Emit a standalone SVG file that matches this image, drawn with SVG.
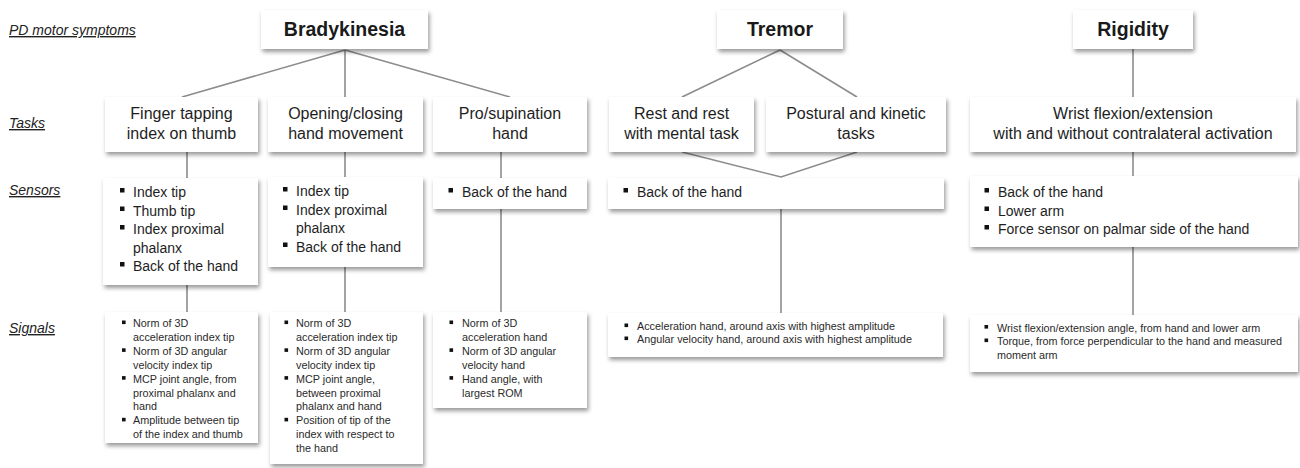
<svg xmlns="http://www.w3.org/2000/svg" width="1300" height="468" viewBox="0 0 1300 468">
<defs>
<filter id="sh" x="-10%" y="-20%" width="125%" height="150%">
<feDropShadow dx="1.5" dy="3" stdDeviation="2" flood-color="#000" flood-opacity="0.4"/>
</filter>
</defs>
<style>
.box{fill:#fff;filter:url(#sh)}
.lab{font-family:"Liberation Sans",Arial,sans-serif;font-size:14px;font-style:italic;text-decoration:underline;fill:#222}
.hd{font-family:"Liberation Sans",Arial,sans-serif;font-size:19.5px;font-weight:bold;fill:#1a1a1a;text-anchor:middle}
.tk{font-family:"Liberation Sans",Arial,sans-serif;font-size:16px;fill:#1e1e1e;text-anchor:middle}
.sn{font-family:"Liberation Sans",Arial,sans-serif;font-size:14px;fill:#1e1e1e}
.sg{font-family:"Liberation Sans",Arial,sans-serif;font-size:10.8px;fill:#2a2a2a}
.b{fill:#111}
.cn{stroke:#8c8c8c;stroke-width:1.6;fill:none}
</style>
<rect width="1300" height="468" fill="#fff"/>

<g id="labels">
<text class="lab" x="9" y="35">PD motor symptoms</text>
<text class="lab" x="9" y="128">Tasks</text>
<text class="lab" x="9" y="195">Sensors</text>
<text class="lab" x="9" y="333">Signals</text>
</g>

<g id="connectors" class="cn">
<path d="M345 50 L182 97 M345 50 L345 97 M345 50 L510 97"/>
<path d="M187 152 V178 M187 285 V312"/>
<path d="M345 152 V177 M345 267 V312"/>
<path d="M501 152 V178 M501 209 V312"/>
<path d="M780 50 L682 97 M780 50 L857 97"/>
<path d="M682 152 L781 177 L857 152 M781 209 V313"/>
<path d="M1133 49 V97 M1133 152 V176 M1133 247 V315"/>
</g>

<g id="bradykinesia"><rect class="box" x="261" y="10" width="167" height="39"/><text class="hd" x="344.5" y="36">Bradykinesia</text></g>
<g id="tremor"><rect class="box" x="717" y="10" width="126" height="39"/><text class="hd" x="780" y="36">Tremor</text></g>
<g id="rigidity"><rect class="box" x="1073" y="10" width="120" height="39"/><text class="hd" x="1133" y="36">Rigidity</text></g>

<g id="task-finger"><rect class="box" x="105" y="97" width="153" height="55"/><text class="tk" x="181.5" y="119">Finger tapping<tspan x="181.5" y="139">index on thumb</tspan></text></g>
<g id="task-opening"><rect class="box" x="268" y="97" width="155" height="55"/><text class="tk" x="345.5" y="119">Opening/closing<tspan x="345.5" y="139">hand movement</tspan></text></g>
<g id="task-prosup"><rect class="box" x="433" y="97" width="154" height="55"/><text class="tk" x="510" y="119">Pro/supination<tspan x="510" y="139">hand</tspan></text></g>
<g id="task-rest"><rect class="box" x="609" y="97" width="145" height="55"/><text class="tk" x="681.5" y="119">Rest and rest<tspan x="681.5" y="139">with mental task</tspan></text></g>
<g id="task-postural"><rect class="box" x="766" y="97" width="180" height="55"/><text class="tk" x="856" y="119">Postural and kinetic<tspan x="856" y="139">tasks</tspan></text></g>
<g id="task-wrist"><rect class="box" x="970" y="97" width="326" height="55"/><text class="tk" x="1133" y="119">Wrist flexion/extension<tspan x="1133" y="139">with and without contralateral activation</tspan></text></g>

<g id="sensors-finger"><rect class="box" x="103" y="178" width="155" height="107"/>
<rect class="b" x="120" y="188" width="4.5" height="4.5"/><rect class="b" x="120" y="206.5" width="4.5" height="4.5"/><rect class="b" x="120" y="225" width="4.5" height="4.5"/><rect class="b" x="120" y="262" width="4.5" height="4.5"/>
<text class="sn" x="133" y="197">Index tip<tspan x="133" y="215.5">Thumb tip</tspan><tspan x="133" y="234">Index proximal</tspan><tspan x="133" y="252.5">phalanx</tspan><tspan x="133" y="271">Back of the hand</tspan></text></g>
<g id="sensors-opening"><rect class="box" x="268" y="177" width="155" height="90"/>
<rect class="b" x="283" y="187" width="4.5" height="4.5"/><rect class="b" x="283" y="205.5" width="4.5" height="4.5"/><rect class="b" x="283" y="242.5" width="4.5" height="4.5"/>
<text class="sn" x="296" y="196">Index tip<tspan x="296" y="214.5">Index proximal</tspan><tspan x="296" y="233">phalanx</tspan><tspan x="296" y="251.5">Back of the hand</tspan></text></g>
<g id="sensors-prosup"><rect class="box" x="433" y="178" width="154" height="31"/>
<rect class="b" x="448.5" y="188" width="4.5" height="4.5"/>
<text class="sn" x="462" y="197">Back of the hand</text></g>
<g id="sensors-tremor"><rect class="box" x="608" y="178" width="336" height="31"/>
<rect class="b" x="623.5" y="188" width="4.5" height="4.5"/>
<text class="sn" x="637" y="197">Back of the hand</text></g>
<g id="sensors-rigidity"><rect class="box" x="970" y="176" width="328" height="71"/>
<rect class="b" x="984.5" y="188" width="4.5" height="4.5"/><rect class="b" x="984.5" y="206.5" width="4.5" height="4.5"/><rect class="b" x="984.5" y="225" width="4.5" height="4.5"/>
<text class="sn" x="998" y="197">Back of the hand<tspan x="998" y="215.5">Lower arm</tspan><tspan x="998" y="234">Force sensor on palmar side of the hand</tspan></text></g>

<g id="signals-finger"><rect class="box" x="105" y="312" width="153" height="131"/>
<rect class="b" x="122" y="320.5" width="3.6" height="3.6"/><rect class="b" x="122" y="348.3" width="3.6" height="3.6"/><rect class="b" x="122" y="376.1" width="3.6" height="3.6"/><rect class="b" x="122" y="417.8" width="3.6" height="3.6"/>
<text class="sg" x="133" y="327">Norm of 3D<tspan x="133" y="340.9">acceleration index tip</tspan><tspan x="133" y="354.8">Norm of 3D angular</tspan><tspan x="133" y="368.7">velocity index tip</tspan><tspan x="133" y="382.6">MCP joint angle, from</tspan><tspan x="133" y="396.5">proximal phalanx and</tspan><tspan x="133" y="410.4">hand</tspan><tspan x="133" y="424.3">Amplitude between tip</tspan><tspan x="133" y="438.2">of the index and thumb</tspan></text></g>
<g id="signals-opening"><rect class="box" x="270" y="312" width="153" height="152"/>
<rect class="b" x="284.5" y="320.5" width="3.6" height="3.6"/><rect class="b" x="284.5" y="348.3" width="3.6" height="3.6"/><rect class="b" x="284.5" y="376.1" width="3.6" height="3.6"/><rect class="b" x="284.5" y="417.8" width="3.6" height="3.6"/>
<text class="sg" x="296" y="327">Norm of 3D<tspan x="296" y="340.9">acceleration index tip</tspan><tspan x="296" y="354.8">Norm of 3D angular</tspan><tspan x="296" y="368.7">velocity index tip</tspan><tspan x="296" y="382.6">MCP joint angle,</tspan><tspan x="296" y="396.5">between proximal</tspan><tspan x="296" y="410.4">phalanx and hand</tspan><tspan x="296" y="424.3">Position of tip of the</tspan><tspan x="296" y="438.2">index with respect to</tspan><tspan x="296" y="452.1">the hand</tspan></text></g>
<g id="signals-prosup"><rect class="box" x="433" y="312" width="154" height="96"/>
<rect class="b" x="449.5" y="320.5" width="3.6" height="3.6"/><rect class="b" x="449.5" y="348.3" width="3.6" height="3.6"/><rect class="b" x="449.5" y="376.1" width="3.6" height="3.6"/>
<text class="sg" x="462" y="327">Norm of 3D<tspan x="462" y="340.9">acceleration hand</tspan><tspan x="462" y="354.8">Norm of 3D angular</tspan><tspan x="462" y="368.7">velocity hand</tspan><tspan x="462" y="382.6">Hand angle, with</tspan><tspan x="462" y="396.5">largest ROM</tspan></text></g>
<g id="signals-tremor"><rect class="box" x="608" y="313" width="335" height="44"/>
<rect class="b" x="624.5" y="323.5" width="3.6" height="3.6"/><rect class="b" x="624.5" y="336.5" width="3.6" height="3.6"/>
<text class="sg" x="637" y="330">Acceleration hand, around axis with highest amplitude<tspan x="637" y="343">Angular velocity hand, around axis with highest amplitude</tspan></text></g>
<g id="signals-rigidity"><rect class="box" x="970" y="315" width="328" height="57"/>
<rect class="b" x="984.5" y="325" width="3.6" height="3.6"/><rect class="b" x="984.5" y="338.5" width="3.6" height="3.6"/>
<text class="sg" x="997" y="331.5">Wrist flexion/extension angle, from hand and lower arm<tspan x="997" y="345">Torque, from force perpendicular to the hand and measured</tspan><tspan x="997" y="358.5">moment arm</tspan></text></g>
</svg>
